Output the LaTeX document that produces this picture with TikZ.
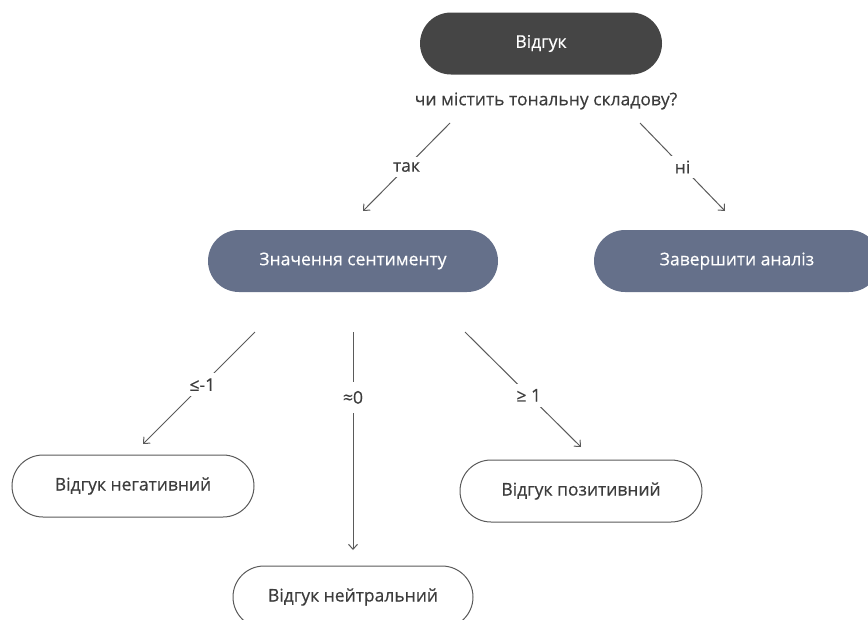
\documentclass[tikz,border=0pt]{standalone}
\usepackage{fontspec}
\setmainfont{Open Sans}
\newfontfamily\diagfont{Open Sans}[FakeBold=0.4]
\usepackage{xcolor}
\usetikzlibrary{arrows.meta}
\definecolor{darkbox}{HTML}{454545}
\definecolor{slatebox}{HTML}{65708A}
\definecolor{linegray}{HTML}{5A5A5A}
\definecolor{textgray}{HTML}{3C3C3C}
\tikzset{
    pill/.style={rectangle, rounded corners=31pt, minimum width=242pt, minimum height=62pt, font=\diagfont\fontsize{17.5}{20}\selectfont},
    startbox/.style={pill, fill=darkbox, text=white},
    valuebox/.style={pill, fill=slatebox, text=white, minimum width=290pt},
    resultbox/.style={pill, draw=linegray, line width=1pt, fill=white, text=textgray},
    link/.style={-{Straight Barb[length=5pt,width=9pt]}, linegray, line width=1pt},
    lbl/.style={fill=white, inner sep=5pt, text=textgray, font=\diagfont\fontsize{17.5}{20}\selectfont}
}
\begin{document}
\begin{tikzpicture}[x=1pt, y=-1pt]
\useasboundingbox (0,0) rectangle (868,619);

% Start
\node[startbox] (review) at (541,43.5) {Відгук};
\node[text=textgray, font=\diagfont\fontsize{17.5}{20}\selectfont] (question) at (546,101) {чи містить тональну складову?};

% Sentiment value and stop
\node[valuebox] (sentiment) at (353,261) {Значення сентименту};
\node[valuebox, minimum width=286pt] (stop) at (737,261) {Завершити аналіз};

% Results
\node[resultbox] (neg) at (133,486) {Відгук негативний};
\node[resultbox, minimum width=240pt] (neu) at (353,597) {Відгук нейтральний};
\node[resultbox] (pos) at (581,491) {Відгук позитивний};

% Connector ends
\coordinate (q1) at (450,123);
\coordinate (q2) at (363,211);
\coordinate (q3) at (640,123);
\coordinate (q4) at (725,211);
\coordinate (s1) at (255,332);
\coordinate (s2) at (143,444);
\coordinate (s3) at (353,332);
\coordinate (s4) at (353,550);
\coordinate (s5) at (465,332);
\coordinate (s6) at (581,447);

% Connectors
\draw[link] (q1) -- node[lbl] (yes) {так} (q2);
\draw[link] (q3) -- node[lbl] (no) {ні} (q4);
\draw[link] (s1) -- node[lbl, pos=0.47] (le) {≤-1} (s2);
\draw[link] (s3) -- node[lbl, pos=0.3, inner sep=9pt] (ap) {≈0} (s4);
\draw[link] (s5) -- node[lbl, pos=0.55] (ge) {≥ 1} (s6);
\end{tikzpicture}
\end{document}
